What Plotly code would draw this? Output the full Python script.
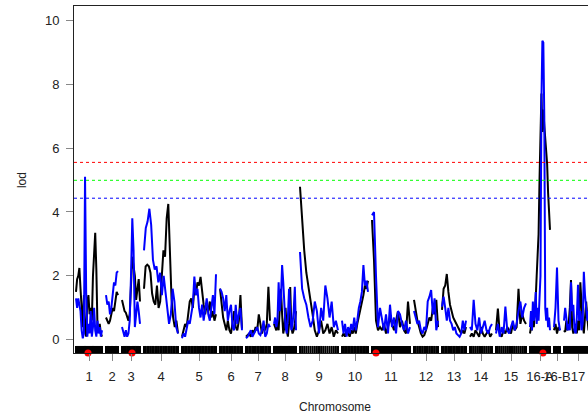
import numpy as np
import plotly.graph_objects as go

# ---------------- data ----------------
chr_names = ["1", "2", "3", "4", "5", "6", "7", "8", "9", "10", "11", "12",
             "13", "14", "15", "16-A", "16-B", "17"]
chr_len_cM = [162.5, 75, 112.5, 212.5, 212.5, 137.5, 150, 137.5, 237.5, 162.5,
              237.5, 150, 150, 137.5, 187.5, 125, 37.5, 175]
gap_cM = 25

lod_black = [
    [1.5, 1.9, 2.0, 2.25, 1.6, 1.0, 0.4, 1.4, 0.3, 0.1, 1.2, 1.4, 0.8, 1.0, 0.6, 2.0, 2.8, 3.35, 2.2, 0.4, 0.3, 0.5, 0.2, 0.1],
    [0.7, 0.6, 0.5, 0.6, 0.8, 1.0, 0.9, 1.3, 1.5, 1.4],
    [1.25, 1.1, 0.9, 0.85, 0.7, 0.6, 0.8, 1.6, 2.6, 2.3, 2.0, 1.25, 1.6, 1.9, 1.2],
    [1.6, 2.3, 2.35, 2.3, 2.1, 1.45, 1.2, 1.1, 1.7, 1.0, 1.2, 2.0, 2.8, 2.6, 3.8, 4.25, 2.5, 1.3, 0.7, 0.4, 0.6, 0.2],
    [0.1, 0.3, 0.5, 0.4, 0.8, 1.2, 1.3, 1.0, 1.6, 1.4, 1.8, 1.7, 1.97, 1.4, 1.1, 0.8, 1.1, 0.9, 1.2, 0.7, 0.9, 0.6, 0.8],
    [1.6, 1.2, 0.7, 0.5, 0.3, 0.6, 0.3, 0.2, 0.5, 0.9, 0.4, 0.3, 0.6, 1.4, 0.35],
    [0.1, 0.15, 0.2, 0.1, 0.3, 0.2, 0.4, 0.3, 0.8, 0.5, 0.2, 0.4, 0.3, 0.5, 1.66, 0.6],
    [0.5, 0.4, 0.3, 0.6, 0.3, 1.0, 1.6, 0.8, 0.2, 0.4, 1.0, 0.3, 0.1, 0.5, 1.65, 0.4, 0.2, 0.3, 0.5, 0.9],
    [4.79, 3.6, 2.8, 2.1, 1.7, 1.2, 0.78, 0.3, 0.1, 0.3, 0.6, 0.2, 0.3, 0.5, 0.2, 0.4, 0.1, 0.3, 0.2],
    [0.1, 0.2, 0.1, 0.3, 0.2, 0.1, 0.3, 0.2, 0.4, 0.2, 0.5, 0.7, 1.0, 1.2, 1.4, 1.7, 1.6, 1.85],
    [3.75, 2.5, 0.6, 0.3, 0.4, 0.3, 0.5, 0.2, 0.4, 0.7, 0.5, 0.3, 0.6, 0.9, 0.4, 0.6, 0.3, 0.2, 1.2, 0.5],
    [1.25, 0.9, 0.6, 0.4, 0.2, 0.1, 0.15, 0.3, 0.5, 0.7, 0.6, 1.0, 0.8, 1.25, 0.4],
    [0.94, 1.6, 1.7, 2.06, 1.5, 1.1, 0.9, 0.7, 0.6, 0.5, 0.4, 0.3, 0.2, 0.3, 0.2, 0.4],
    [0.1, 0.2, 0.1, 0.3, 0.2, 0.1, 0.4, 0.2, 0.1, 0.2, 0.3, 0.1, 0.2],
    [0.3, 0.98, 0.2, 0.1, 0.3, 0.2, 0.4, 0.3, 0.2, 0.5, 0.3, 0.4, 1.6, 0.5, 0.8, 0.6, 0.5],
    [0.2, 0.4, 0.3, 0.6, 0.4, 0.8, 1.3, 2.0, 2.6, 3.3, 5.0, 7.0, 7.7, 6.5, 7.2, 6.7, 6.3, 5.8, 5.5, 4.6, 4.0, 3.44],
    [0.3, 0.5, 0.2, 0.4, 0.3],
    [0.3, 0.25, 0.6, 0.3, 0.5, 1.0, 1.87, 0.4, 0.2, 0.3, 0.5, 0.2, 0.6, 0.3, 1.8, 0.9, 0.5, 0.2, 0.6, 1.2, 0.7, 0.3, 0.4, 0.6, 0.3],
]

lod_blue = [
    [1.3, 1.0, 1.3, 1.1, 0.9, 0.3, 0.05, 0.2, 5.1, 1.5, 0.1, 0.5, 0.2, 0.9, 0.1, 0.4, 1.0, 0.3, 0.1, 0.6, 0.2, 0.4, 0.1, 0.3],
    [1.4, 1.1, 1.2, 0.8, 1.0, 1.5, 1.8, 1.7, 2.1, 2.15],
    [0.4, 0.2, 0.1, 0.3, 0.1, 0.2, 0.6, 2.0, 3.8, 2.8, 0.4, 0.8, 1.2, 0.9, 0.5],
    [2.8, 3.5, 3.7, 4.1, 3.6, 2.5, 2.2, 2.3, 1.8, 2.1, 1.4, 2.0, 1.5, 1.0, 0.5, 0.8, 1.6, 1.2, 0.4, 0.2],
    [0.05, 0.2, 0.1, 0.4, 0.6, 0.5, 0.8, 1.1, 1.98, 1.4, 1.6, 1.0, 0.7, 1.1, 0.6, 0.9, 1.3, 0.8, 0.6, 1.0, 1.4, 0.8, 2.05],
    [1.6, 1.5, 1.3, 0.9, 1.4, 0.6, 0.9, 1.1, 0.4, 0.3, 1.1, 0.5, 0.8, 1.0, 0.3],
    [0.05, 0.1, 0.2, 0.3, 0.1, 0.2, 0.3, 0.4, 0.2, 0.15, 0.3, 0.6, 0.1, 0.2, 0.5, 0.4],
    [0.5, 0.7, 0.4, 0.6, 1.8, 0.9, 1.3, 2.34, 1.8, 1.0, 0.4, 0.2, 0.7, 1.6, 0.8, 0.3, 0.5, 0.9, 1.66, 0.3],
    [2.75, 1.6, 1.3, 1.1, 0.7, 0.4, 0.6, 1.2, 0.9, 0.2, 1.0, 0.6, 1.7, 1.3, 0.7, 1.2, 0.4, 0.6, 0.3],
    [0.6, 0.2, 0.5, 0.1, 0.4, 0.2, 0.5, 0.3, 0.7, 0.3, 0.6, 1.0, 1.2, 1.5, 2.34, 1.7, 1.85, 1.5],
    [3.9, 4.0, 2.0, 0.4, 1.0, 0.6, 0.3, 0.8, 0.2, 1.1, 0.4, 0.7, 0.2, 0.9, 0.8, 0.5, 0.3, 0.6, 0.2, 0.4],
    [0.9, 0.7, 0.5, 0.6, 0.3, 0.2, 0.4, 0.3, 1.2, 1.35, 1.56, 0.8, 1.3, 0.3, 0.6],
    [1.04, 1.35, 1.0, 0.6, 1.0, 0.6, 0.5, 0.3, 0.4, 0.2, 0.15, 0.1, 0.2, 0.6, 0.3, 0.6],
    [0.4, 0.3, 1.25, 0.5, 0.3, 0.7, 0.2, 0.4, 0.6, 0.3, 0.2, 0.4, 0.5],
    [0.2, 0.5, 0.1, 0.4, 0.2, 1.04, 0.3, 0.2, 0.4, 0.6, 0.3, 0.5, 0.9, 1.2, 0.7, 1.0, 1.14],
    [0.4, 0.9, 0.3, 1.2, 0.6, 0.8, 1.5, 0.5, 1.0, 0.6, 1.3, 2.0, 7.5, 9.35, 9.3, 7.0, 1.0, 0.6, 1.0, 0.4, 0.7, 0.3],
    [0.4, 1.0, 2.26, 0.6, 0.3],
    [0.6, 1.0, 0.7, 0.3, 0.5, 0.3, 1.8, 0.9, 1.1, 0.3, 0.2, 0.7, 1.72, 0.6, 0.9, 0.3, 0.5, 2.13, 1.4, 1.0, 0.6, 0.9, 0.5, 0.7, 0.4],
]

# peak markers (chromosome index, position in cM)
peak_chr = [0, 2, 10, 15]
peak_pos_cM = [75, 62.5, 25, 81]

thresholds = [5.55, 4.99, 4.43]
threshold_colors = ["#FF0000", "#00FF00", "#0000FF"]

y_ticks = [0, 2, 4, 6, 8, 10]

# ---------------- build ----------------
offsets = np.concatenate([[0], np.cumsum(np.array(chr_len_cM) + gap_cM)[:-1]])
centers = offsets + np.array(chr_len_cM) / 2

def concat(series):
    xs, ys = [], []
    for i, vals in enumerate(series):
        pos = offsets[i] + np.linspace(0, chr_len_cM[i], len(vals))
        xs += list(pos) + [None]
        ys += list(vals) + [None]
    return xs, ys

YMIN, YMAX = -0.41, 10.44
RUG_TOP = -0.19

fig = go.Figure()

# rug of marker positions (positions of the black scan points)
rx, ry = [], []
for i, vals in enumerate(lod_black):
    for p in offsets[i] + np.linspace(0, chr_len_cM[i], len(vals)):
        rx += [p, p, None]
        ry += [YMIN, RUG_TOP, None]
fig.add_trace(go.Scatter(x=rx, y=ry, mode="lines", line=dict(color="black", width=2),
                         hoverinfo="skip", showlegend=False))

for t, c in zip(thresholds, threshold_colors):
    fig.add_hline(y=t, line=dict(color=c, width=1, dash="dot"))

bx, by = concat(lod_black)
fig.add_trace(go.Scatter(x=bx, y=by, mode="lines", line=dict(color="black", width=2),
                         showlegend=False, connectgaps=False))
ux, uy = concat(lod_blue)
fig.add_trace(go.Scatter(x=ux, y=uy, mode="lines", line=dict(color="#0000FF", width=2),
                         showlegend=False, connectgaps=False))

px_ = [offsets[c] + p for c, p in zip(peak_chr, peak_pos_cM)]
fig.add_trace(go.Scatter(x=px_, y=[YMIN] * len(px_), mode="markers",
                         marker=dict(color="#FF0000", size=7), cliponaxis=False,
                         showlegend=False))

font = "Liberation Sans, Arial, sans-serif"
fig.update_layout(
    width=588, height=414,
    margin=dict(l=74, r=0, t=6, b=61, autoexpand=False),
    plot_bgcolor="white", paper_bgcolor="white",
    font=dict(family=font, size=13, color="#222"),
    xaxis=dict(range=[-12.5, 3200], tickvals=list(centers), ticktext=chr_names,
               showline=True, linecolor="#222", linewidth=1, mirror=True,
               ticks="outside", ticklen=7, tickcolor="#888", tickwidth=1,
               showgrid=False, zeroline=False, tickfont=dict(size=13),
               tickangle=0, automargin=False, ticklabelstandoff=4),
    yaxis=dict(range=[YMIN, YMAX], tickvals=y_ticks,
               showline=True, linecolor="#222", linewidth=1,
               ticks="outside", ticklen=7, tickcolor="#888", tickwidth=1,
               showgrid=False, zeroline=False, tickfont=dict(size=13),
               automargin=False, ticklabelstandoff=4),
    annotations=[
        dict(text="Chromosome", xref="paper", yref="paper", x=0.508, y=-0.156,
             showarrow=False, xanchor="center", yanchor="middle", font=dict(size=12)),
        dict(text="lod", xref="paper", yref="paper", x=-0.101, y=0.4986,
             showarrow=False, xanchor="center", yanchor="middle", textangle=-90,
             font=dict(size=12)),
    ],
)

fig.write_html("out.html", config={"displayModeBar": False},
               post_script="document.body.style.margin='0';document.body.style.overflow='hidden';")
